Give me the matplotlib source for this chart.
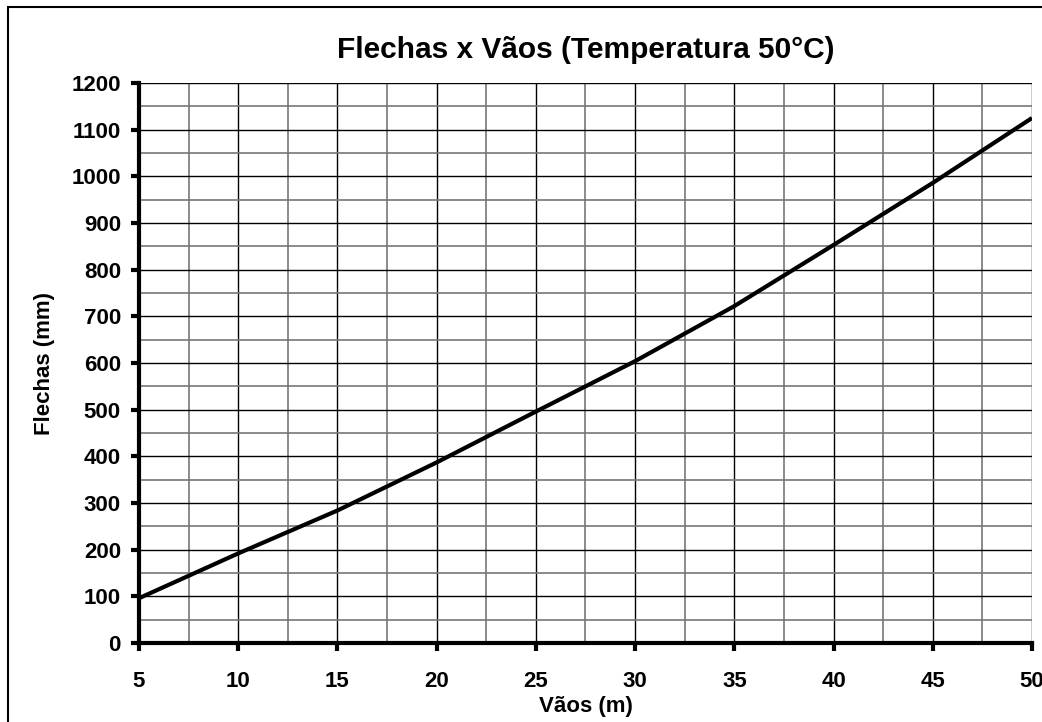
import matplotlib
matplotlib.use("Agg")
import matplotlib.pyplot as plt
from matplotlib.patches import Rectangle
from matplotlib.ticker import MultipleLocator

# ==========================
# DATA
# ==========================
vaos = [5, 10, 15, 20, 25, 30, 35, 40, 45, 50]
flechas = [96, 192, 284, 387, 496, 604, 722, 853, 986, 1125]

x_ticks = [5, 10, 15, 20, 25, 30, 35, 40, 45, 50]
y_ticks = [0, 100, 200, 300, 400, 500, 600, 700, 800, 900, 1000, 1100, 1200]

plt.rcParams['font.family'] = ['Liberation Sans', 'DejaVu Sans']
plt.rcParams['font.weight'] = 'bold'

# ==========================
# CHART
# ==========================
fig = plt.figure(figsize=(10.42, 7.22), dpi=100)
ax = fig.add_axes([0.1334, 0.1094, 0.8570, 0.7756])

ax.plot(vaos, flechas, color='black', lw=3.0, zorder=5, solid_capstyle='butt')

ax.set_xlim(5, 50)
ax.set_ylim(0, 1200)
ax.set_xticks(x_ticks)
ax.set_yticks(y_ticks)
ax.xaxis.set_minor_locator(MultipleLocator(2.5))
ax.yaxis.set_minor_locator(MultipleLocator(50))

ax.grid(which='major', color='black', lw=1.0)
ax.grid(which='minor', color='#777777', lw=1.2)
ax.set_axisbelow(True)

for s in ['top', 'right']:
    ax.spines[s].set_visible(False)
for s in ['left', 'bottom']:
    ax.spines[s].set_linewidth(3)
    ax.spines[s].set_zorder(6)

ax.tick_params(which='major', direction='out', length=6, width=3,
               labelsize=16)
ax.tick_params(axis='x', which='major', pad=14)
ax.tick_params(axis='y', which='major', pad=7)
ax.tick_params(which='minor', length=0)
for lab in ax.get_xticklabels() + ax.get_yticklabels():
    lab.set_fontweight('bold')

ax.set_title("Flechas x Vãos (Temperatura 50°C)", fontsize=21.5,
             fontweight='bold', pad=18)
ax.set_xlabel("Vãos (m)", fontsize=16, fontweight='bold', labelpad=3)
ax.set_ylabel("Flechas (mm)", fontsize=16, fontweight='bold', labelpad=12)

# moldura da figura (estilo Excel)
fig.patches.append(Rectangle((8 / 1042, -0.1), 1.2, 1.0903,
                             transform=fig.transFigure, fill=False,
                             edgecolor='black', lw=1.5))

fig.savefig("out.png", dpi=100)
